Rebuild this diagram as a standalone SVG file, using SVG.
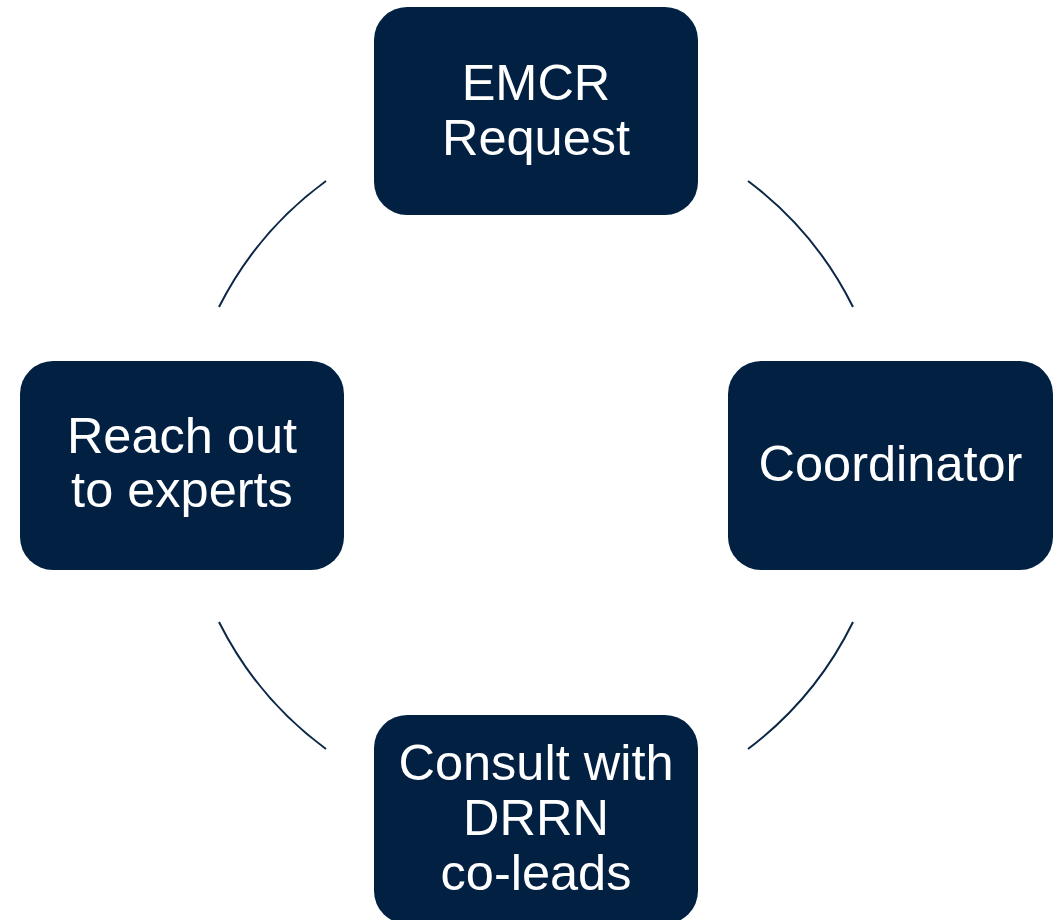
<svg xmlns="http://www.w3.org/2000/svg" width="1061" height="920" viewBox="0 0 1061 920">
  <style>
    .box { fill: #022142; }
    .lbl { fill: #ffffff; font-family: "Liberation Sans", Arial, sans-serif; font-size: 50.5px; text-anchor: middle; }
    .arc { fill: none; stroke: #0b2746; stroke-width: 2; }
  </style>
  <rect width="1061" height="920" fill="#ffffff"/>
  <g id="connectors">
    <path class="arc" d="M 326 181 A 354 354 0 0 0 219 307"/>
    <path class="arc" d="M 748 181 A 354 354 0 0 1 853 307"/>
    <path class="arc" d="M 853 622 A 354 354 0 0 1 748 749"/>
    <path class="arc" d="M 219 622 A 354 354 0 0 0 326 749"/>
  </g>
  <g id="node-emcr">
    <rect class="box" x="374" y="7" width="324" height="208" rx="33"/>
    <text class="lbl" x="536" y="100">EMCR</text>
    <text class="lbl" x="536" y="155">Request</text>
  </g>
  <g id="node-coordinator">
    <rect class="box" x="728" y="361" width="325" height="209" rx="33"/>
    <text class="lbl" x="890.5" y="481">Coordinator</text>
  </g>
  <g id="node-consult">
    <rect class="box" x="374" y="715" width="324" height="209" rx="33"/>
    <text class="lbl" x="536" y="780">Consult with</text>
    <text class="lbl" x="536" y="835">DRRN</text>
    <text class="lbl" x="536" y="890">co-leads</text>
  </g>
  <g id="node-reach">
    <rect class="box" x="20" y="361" width="324" height="209" rx="33"/>
    <text class="lbl" x="182" y="453">Reach out</text>
    <text class="lbl" x="182" y="507">to experts</text>
  </g>
</svg>
